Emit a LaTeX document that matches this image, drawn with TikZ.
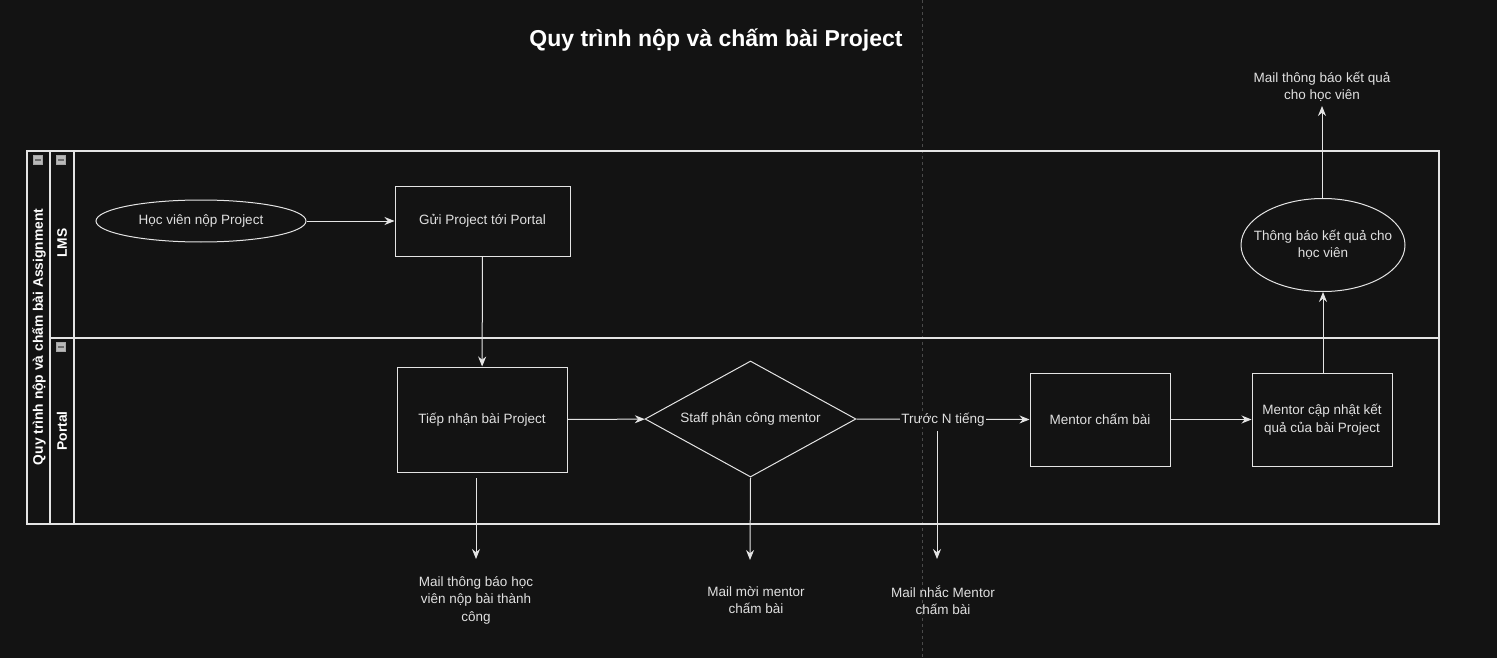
\documentclass[tikz,border=0pt]{standalone}
\usepackage{fontspec}
\setmainfont{Liberation Sans}
\usetikzlibrary{arrows.meta,shapes.geometric}
\definecolor{bg}{HTML}{131313}
\definecolor{fg}{HTML}{E4E4E4}
\definecolor{tx}{HTML}{E0E0E0}
\definecolor{pb}{HTML}{4A4A4A}
\tikzset{
  every node/.style={text=tx, font=\fontsize{13.5}{17.5}\selectfont, align=center},
  box/.style={draw=fg, line width=1pt, rectangle, inner sep=0pt},
  oval/.style={draw=fg, line width=1pt, ellipse, inner sep=0pt},
  dia/.style={draw=fg, line width=1pt, diamond, inner sep=0pt},
  arr/.style={draw=fg, line width=1pt, -{Stealth[length=10pt,width=8pt]}},
  lane/.style={draw=fg, line width=1.2pt},
  lbl/.style={font=\bfseries\fontsize{13.8}{16}\selectfont, text=white, rotate=90},
  icon/.style={draw=gray!70, fill=gray!55, line width=0.6pt, minimum size=9pt, inner sep=0pt},
}
\begin{document}
\begin{tikzpicture}[x=1pt,y=-1pt]
\fill[bg] (0,0) rectangle (1497,658);
\useasboundingbox (0,0) rectangle (1497,658);
% page break line
\draw[pb, line width=0.6pt, dash pattern=on 3pt off 3pt] (922,0) -- (922,658);
% title
\node[font=\bfseries\fontsize{23}{26}\selectfont, text=white] (title) at (716,40) {Quy trình nộp và chấm bài Project};
% pool and lanes
\draw[lane] (27,151) rectangle (1439,524);
\draw[lane] (50,151) -- (50,524);
\draw[lane] (74,151) -- (74,524);
\draw[lane] (50,338) -- (1439,338);
\node[lbl] (pool) at (39,337) {Quy trình nộp và chấm bài Assignment};
\node[lbl] (lms) at (62,243) {LMS};
\node[lbl] (portal) at (62,431) {Portal};
\foreach \x/\y in {38/160, 61/160, 61/347}{
  \node[icon] at (\x,\y) {};
  \draw[gray!85!black, line width=1.4pt] (\x-3,\y) -- (\x+3,\y);
}
% nodes
\node[oval, minimum width=210pt, minimum height=42pt, label={center:Học viên nộp Project}] (hv) at (201,221) {};
\node[box, minimum width=175pt, minimum height=70pt] (gui) at (482.5,221) {Gửi Project tới Portal};
\node[box, minimum width=170pt, minimum height=105pt] (tn) at (482,419.5) {Tiếp nhận bài Project};
\node[dia, aspect=1.82, minimum width=211pt, minimum height=116pt] (staff) at (750.5,419) {Staff phân công mentor};
\node[box, minimum width=140pt, minimum height=93pt] (mc) at (1100,419.5) {Mentor chấm bài};
\node[box, minimum width=140pt, minimum height=93pt] (mu) at (1322,419.5) {Mentor cập nhật kết\\quả của bài Project};
\node[oval, minimum width=164pt, minimum height=93pt, label={[align=center]center:Thông báo kết quả cho\\học viên}] (tb) at (1323,245) {};
% text nodes
\node (m1) at (1322,87) {Mail thông báo kết quả\\cho học viên};
\node (m2) at (476,600) {Mail thông báo học\\viên nộp bài thành\\công};
\node (m3) at (756,600) {Mail mời mentor\\chấm bài};
\node (m4) at (943,600) {Mail nhắc Mentor\\chấm bài};
\coordinate (m1a) at (1322,106);
\coordinate (tb0) at (1322,198);
\coordinate (tnb) at (476,478);
\coordinate (m2a) at (476,559);
\coordinate (m3a) at (750,560);
\coordinate (rs) at (937,431);
\coordinate (m4a) at (937,559);
% connectors
\draw[arr] (hv) -- (gui);
\draw[arr] (gui) -- (tn);
\draw[arr] (tn) -- (staff);
\draw[arr] (staff.east) -- node[fill=bg, inner sep=1pt] (lab) {Trước N tiếng} (mc.west);
\draw[arr] (mc) -- (mu);
\draw[arr] (mu.north -| tb.south) -- (tb.south);
\draw[arr] (tb0) -- (m1a);
\draw[arr] (tnb) -- (m2a);
\draw[arr] (staff.south) -- (m3a);
\draw[arr] (rs) -- (m4a);
\end{tikzpicture}
\end{document}
